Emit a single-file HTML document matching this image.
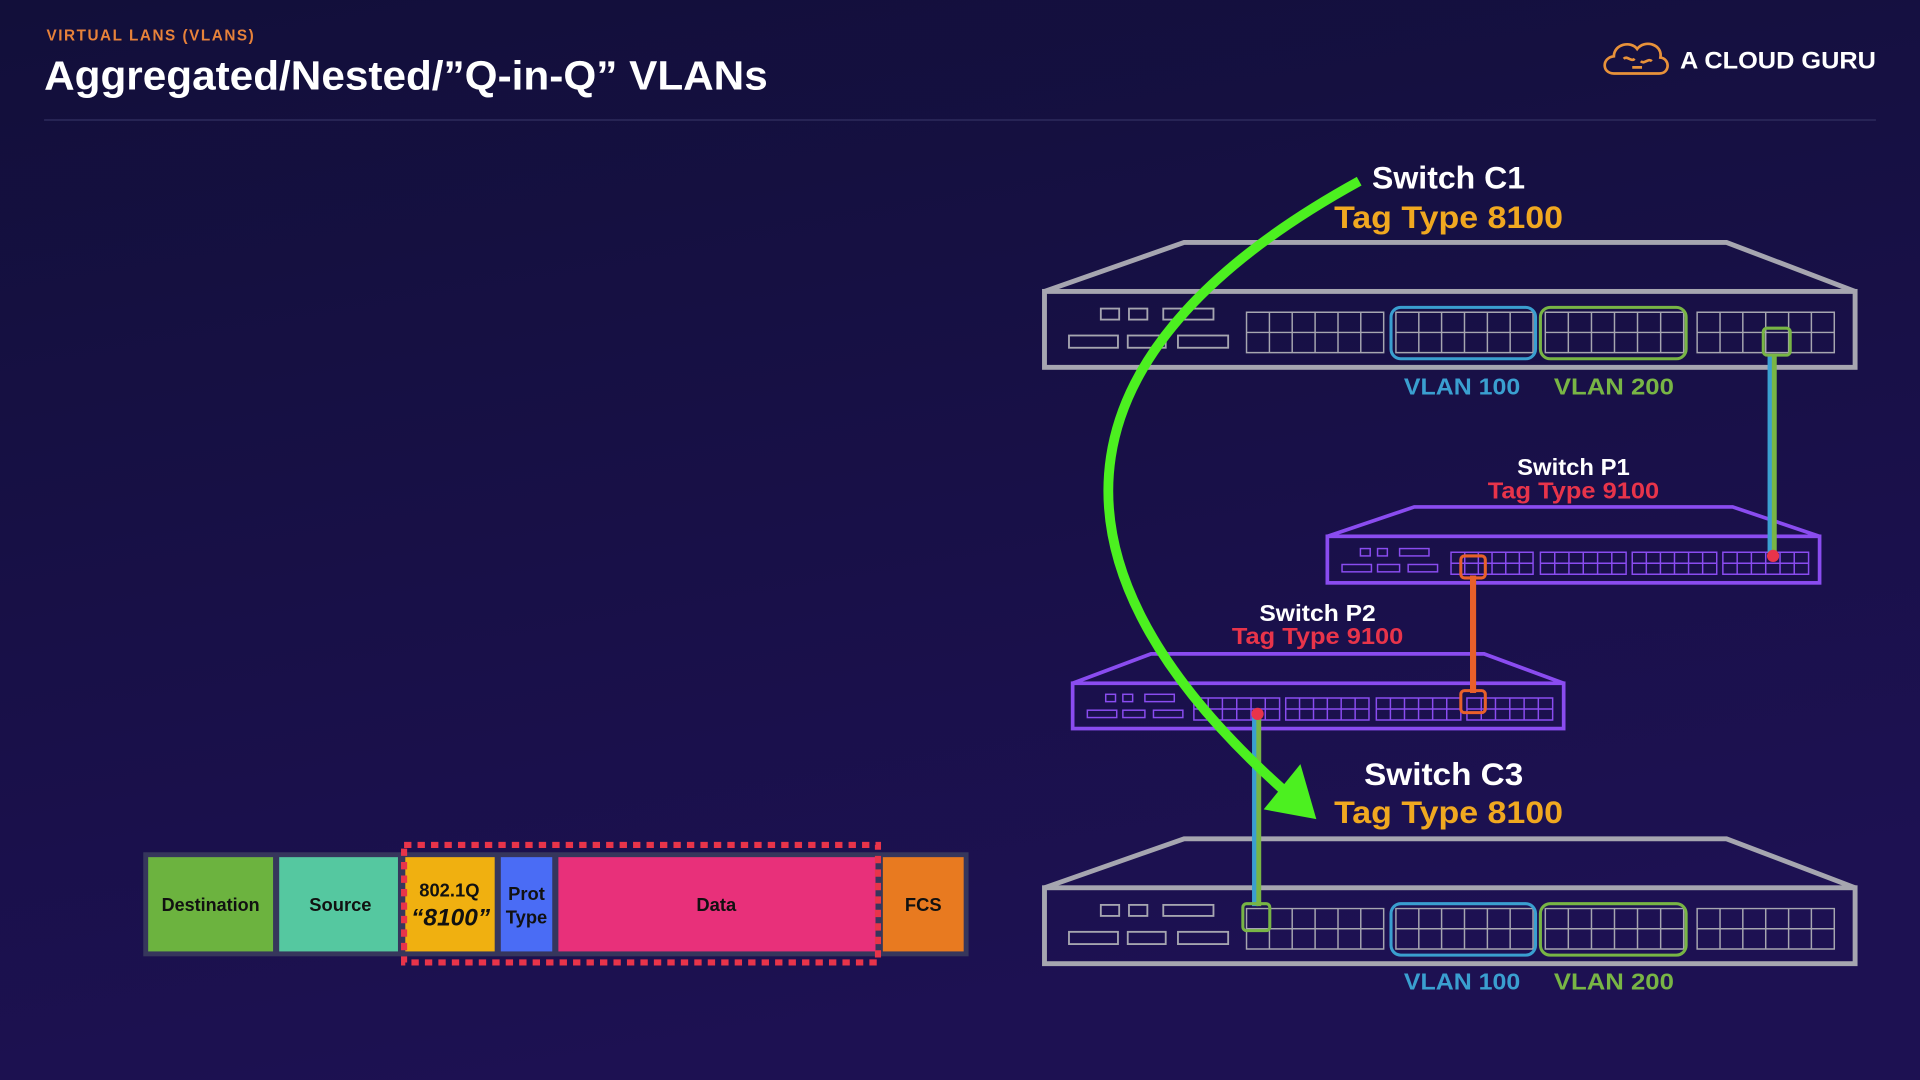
<!DOCTYPE html>
<html><head><meta charset="utf-8"><style>
html,body{margin:0;padding:0;width:1920px;height:1080px;overflow:hidden;background:#17103f}
svg{display:block}
text{font-family:"Liberation Sans",sans-serif;font-weight:bold}
</style></head><body>
<svg width="1920" height="1080" viewBox="0 0 1568 882" xmlns="http://www.w3.org/2000/svg">
<defs>
<linearGradient id="bg" x1="0" y1="0" x2="0.3" y2="1">
<stop offset="0" stop-color="#120f3a"/><stop offset="1" stop-color="#1d1152"/>
</linearGradient>
</defs>
<rect width="1568" height="882" fill="url(#bg)"/>
<text x="38" y="33" fill="#e8823a" font-size="12.5" textLength="170" letter-spacing="0.8">VIRTUAL LANS (VLANS)</text>
<text x="36" y="73" fill="#fff" font-size="33" textLength="591" lengthAdjust="spacingAndGlyphs">Aggregated/Nested/”Q-in-Q” VLANs</text>
<line x1="36" y1="98" x2="1532" y2="98" stroke="#2a2758" stroke-width="1.5"/>
<g fill="none" stroke="#e8923a" stroke-width="2.2">
<path d="M1318,60 C1308,60 1308,47 1318,46 C1318,36 1332,33 1337,40 C1343,32 1358,36 1356,47 C1364,48 1364,60 1355,60 Z"/>
<path d="M1326,48 c3,-3 6,3 9,0 M1340,50 c3,3 6,-3 9,0 M1333,55 l8,0"/>
</g>
<text x="1372" y="56" fill="#fff" font-size="20" textLength="160" lengthAdjust="spacingAndGlyphs">A CLOUD GURU</text>

<!-- Switch C1 -->
<text x="1183" y="154" fill="#fff" font-size="26" text-anchor="middle" textLength="125" lengthAdjust="spacingAndGlyphs">Switch C1</text>
<text x="1183" y="186" fill="#f0a820" font-size="26" text-anchor="middle" textLength="187" lengthAdjust="spacingAndGlyphs">Tag Type 8100</text>
<g stroke="#a6a6b0" fill="none">
<path d="M853,238 L967,198 L1410,198 L1515,238" stroke-width="4"/>
<rect x="853" y="238" width="662" height="62" stroke-width="4"/>
<g stroke-width="1.5">
<rect x="899" y="252" width="15" height="9"/><rect x="922" y="252" width="15" height="9"/><rect x="950" y="252" width="41" height="9"/>
<rect x="873" y="274" width="40" height="10"/><rect x="921" y="274" width="31" height="10"/><rect x="962" y="274" width="41" height="10"/>
</g>
<g stroke-width="1.2">
<path d="M1018,255h112v33h-112z M1018,271.5h112 M1036.7,255v33 M1055.3,255v33 M1074,255v33 M1092.7,255v33 M1111.3,255v33"/>
<path d="M1140,255h112v33h-112z M1140,271.5h112 M1158.7,255v33 M1177.3,255v33 M1196,255v33 M1214.7,255v33 M1233.3,255v33"/>
<path d="M1262,255h113v33h-113z M1262,271.5h113 M1280.8,255v33 M1299.7,255v33 M1318.5,255v33 M1337.3,255v33 M1356.2,255v33"/>
<path d="M1386,255h112v33h-112z M1386,271.5h112 M1404.7,255v33 M1423.3,255v33 M1442,255v33 M1460.7,255v33 M1479.3,255v33"/>
</g>
</g>
<rect x="1136" y="251" width="118" height="42" rx="8" fill="none" stroke="#3a9fd0" stroke-width="2.5"/>
<rect x="1258" y="251" width="119" height="42" rx="8" fill="none" stroke="#78b545" stroke-width="2.5"/>
<text x="1194" y="322" fill="#3a9fd0" font-size="19" text-anchor="middle" textLength="95" lengthAdjust="spacingAndGlyphs">VLAN 100</text>
<text x="1318" y="322" fill="#78b545" font-size="19" text-anchor="middle" textLength="98" lengthAdjust="spacingAndGlyphs">VLAN 200</text>

<!-- Switch C3 -->
<text x="1179" y="641" fill="#fff" font-size="26" text-anchor="middle" textLength="130" lengthAdjust="spacingAndGlyphs">Switch C3</text>
<text x="1183" y="672" fill="#f0a820" font-size="26" text-anchor="middle" textLength="187" lengthAdjust="spacingAndGlyphs">Tag Type 8100</text>
<g stroke="#a6a6b0" fill="none">
<path d="M853,725 L967,685 L1410,685 L1515,725" stroke-width="4"/>
<rect x="853" y="725" width="662" height="62" stroke-width="4"/>
<g stroke-width="1.5">
<rect x="899" y="739" width="15" height="9"/><rect x="922" y="739" width="15" height="9"/><rect x="950" y="739" width="41" height="9"/>
<rect x="873" y="761" width="40" height="10"/><rect x="921" y="761" width="31" height="10"/><rect x="962" y="761" width="41" height="10"/>
</g>
<g stroke-width="1.2">
<path d="M1018,742h112v33h-112z M1018,758.5h112 M1036.7,742v33 M1055.3,742v33 M1074,742v33 M1092.7,742v33 M1111.3,742v33"/>
<path d="M1140,742h112v33h-112z M1140,758.5h112 M1158.7,742v33 M1177.3,742v33 M1196,742v33 M1214.7,742v33 M1233.3,742v33"/>
<path d="M1262,742h113v33h-113z M1262,758.5h113 M1280.8,742v33 M1299.7,742v33 M1318.5,742v33 M1337.3,742v33 M1356.2,742v33"/>
<path d="M1386,742h112v33h-112z M1386,758.5h112 M1404.7,742v33 M1423.3,742v33 M1442,742v33 M1460.7,742v33 M1479.3,742v33"/>
</g>
</g>
<rect x="1136" y="738" width="118" height="42" rx="8" fill="none" stroke="#3a9fd0" stroke-width="2.5"/>
<rect x="1258" y="738" width="119" height="42" rx="8" fill="none" stroke="#78b545" stroke-width="2.5"/>
<text x="1194" y="808" fill="#3a9fd0" font-size="19" text-anchor="middle" textLength="95" lengthAdjust="spacingAndGlyphs">VLAN 100</text>
<text x="1318" y="808" fill="#78b545" font-size="19" text-anchor="middle" textLength="98" lengthAdjust="spacingAndGlyphs">VLAN 200</text>

<!-- Switch P1 -->
<text x="1285" y="388" fill="#fff" font-size="19" text-anchor="middle" textLength="92" lengthAdjust="spacingAndGlyphs">Switch P1</text>
<text x="1285" y="407" fill="#e8344a" font-size="19" text-anchor="middle" textLength="140" lengthAdjust="spacingAndGlyphs">Tag Type 9100</text>
<g stroke="#8a4cf0" fill="none">
<path d="M1084,438 L1155,414 L1415,414 L1486,438" stroke-width="3"/>
<rect x="1084" y="438" width="402" height="38" stroke-width="3"/>
<g stroke-width="1.2">
<rect x="1111" y="448" width="8" height="6"/><rect x="1125" y="448" width="8" height="6"/><rect x="1143" y="448" width="24" height="6"/>
<rect x="1096" y="461" width="24" height="6"/><rect x="1125" y="461" width="18" height="6"/><rect x="1150" y="461" width="24" height="6"/>
<path d="M1185,451h67v18h-67z M1185,460h67 M1196.2,451v18 M1207.3,451v18 M1218.5,451v18 M1229.7,451v18 M1240.8,451v18"/>
<path d="M1258,451h70v18h-70z M1258,460h70 M1269.7,451v18 M1281.3,451v18 M1293,451v18 M1304.7,451v18 M1316.3,451v18"/>
<path d="M1333,451h69v18h-69z M1333,460h69 M1344.5,451v18 M1356,451v18 M1367.5,451v18 M1379,451v18 M1390.5,451v18"/>
<path d="M1407,451h70v18h-70z M1407,460h70 M1418.7,451v18 M1430.3,451v18 M1442,451v18 M1453.7,451v18 M1465.3,451v18"/>
</g>
</g>

<!-- Switch P2 -->
<text x="1076" y="507" fill="#fff" font-size="19" text-anchor="middle" textLength="95" lengthAdjust="spacingAndGlyphs">Switch P2</text>
<text x="1076" y="526" fill="#e8344a" font-size="19" text-anchor="middle" textLength="140" lengthAdjust="spacingAndGlyphs">Tag Type 9100</text>
<g stroke="#8a4cf0" fill="none">
<path d="M876,558 L940,534 L1212,534 L1277,558" stroke-width="3"/>
<rect x="876" y="558" width="401" height="37" stroke-width="3"/>
<g stroke-width="1.2">
<rect x="903" y="567" width="8" height="6"/><rect x="917" y="567" width="8" height="6"/><rect x="935" y="567" width="24" height="6"/>
<rect x="888" y="580" width="24" height="6"/><rect x="917" y="580" width="18" height="6"/><rect x="942" y="580" width="24" height="6"/>
<path d="M975,570h70v18h-70z M975,579h70 M986.7,570v18 M998.3,570v18 M1010,570v18 M1021.7,570v18 M1033.3,570v18"/>
<path d="M1050,570h68v18h-68z M1050,579h68 M1061.3,570v18 M1072.7,570v18 M1084,570v18 M1095.3,570v18 M1106.7,570v18"/>
<path d="M1124,570h69v18h-69z M1124,579h69 M1135.5,570v18 M1147,570v18 M1158.5,570v18 M1170,570v18 M1181.5,570v18"/>
<path d="M1198,570h70v18h-70z M1198,579h70 M1209.7,570v18 M1221.3,570v18 M1233,570v18 M1244.7,570v18 M1256.3,570v18"/>
</g>
</g>

<!-- connections -->
<line x1="1446" y1="290" x2="1446" y2="452" stroke="#3a9fd0" stroke-width="5"/>
<line x1="1449" y1="290" x2="1449" y2="452" stroke="#78b545" stroke-width="4"/>
<rect x="1440" y="268" width="22" height="22" rx="3" fill="none" stroke="#78b545" stroke-width="2.5"/>
<circle cx="1448" cy="454" r="5" fill="#e8344a"/>
<line x1="1203" y1="470" x2="1203" y2="566" stroke="#e8602a" stroke-width="5"/>
<rect x="1193" y="454" width="20" height="18" rx="3" fill="none" stroke="#e8602a" stroke-width="2.5"/>
<rect x="1193" y="564" width="20" height="18" rx="3" fill="none" stroke="#e8602a" stroke-width="2.5"/>
<line x1="1025" y1="585" x2="1025" y2="740" stroke="#3a9fd0" stroke-width="5"/>
<line x1="1028" y1="585" x2="1028" y2="740" stroke="#78b545" stroke-width="4"/>
<circle cx="1027" cy="583" r="5" fill="#e8344a"/>
<rect x="1015" y="738" width="22" height="22" rx="3" fill="none" stroke="#78b545" stroke-width="2.5"/>

<!-- arc -->
<path d="M1110,148 C870,280 830,450 1048,645" fill="none" stroke="#4cf020" stroke-width="8"/>
<polygon points="1075,669 1032,661 1062,624" fill="#4cf020"/>

<!-- frame -->
<rect x="117" y="696" width="674" height="85" fill="#36365c"/>
<rect x="121" y="700" width="102" height="77" fill="#6cb33f"/>
<rect x="228" y="700" width="97" height="77" fill="#55c8a0"/>
<rect x="331" y="700" width="73" height="77" fill="#f0b010"/>
<rect x="409" y="700" width="42" height="77" fill="#4a6cf5"/>
<rect x="456" y="700" width="259" height="77" fill="#e8307a"/>
<rect x="721" y="700" width="66" height="77" fill="#e87a20"/>
<rect x="330" y="690" width="387" height="96" fill="none" stroke="#e8344a" stroke-width="5" stroke-dasharray="6 5"/>
<g fill="#111">
<text x="172" y="744" font-size="15" text-anchor="middle" textLength="80" lengthAdjust="spacingAndGlyphs">Destination</text>
<text x="278" y="744" font-size="15" text-anchor="middle">Source</text>
<text x="367" y="732" font-size="15" text-anchor="middle">802.1Q</text>
<text x="368" y="756" font-size="20" text-anchor="middle" font-style="italic">“8100”</text>
<text x="430" y="735" font-size="15" text-anchor="middle">Prot</text>
<text x="430" y="754" font-size="15" text-anchor="middle">Type</text>
<text x="585" y="744" font-size="15" text-anchor="middle">Data</text>
<text x="754" y="744" font-size="15" text-anchor="middle">FCS</text>
</g>
</svg>
</body></html>
